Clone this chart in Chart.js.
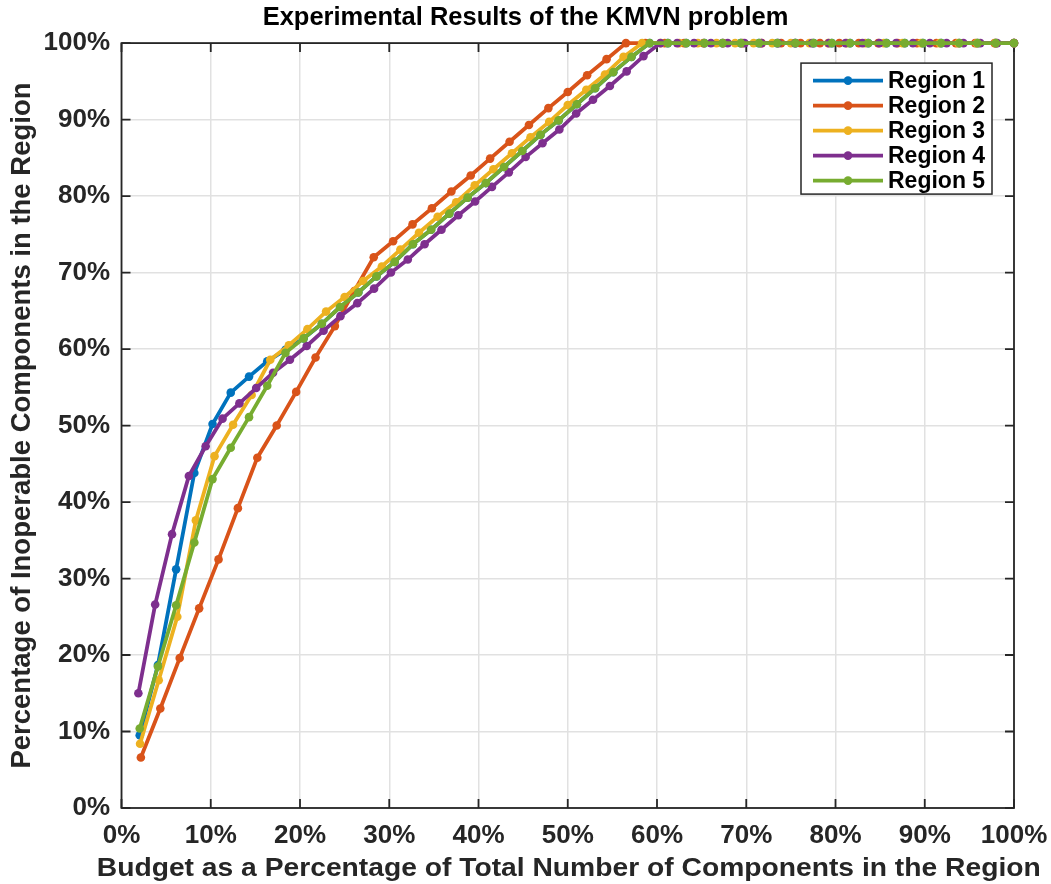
<!DOCTYPE html>
<html>
<head>
<meta charset="utf-8">
<style>
  html, body { margin: 0; padding: 0; background: #ffffff; }
  #wrap { width: 1051px; height: 884px; position: relative; }
</style>
<script src="https://cdn.jsdelivr.net/npm/chart.js@4.4.1/dist/chart.umd.min.js"></script>
</head>
<body>
<div id="wrap"><canvas id="c" width="1051" height="884"></canvas></div>
<script>
// ---------- DATA ----------
const chartTitle = "Experimental Results of the KMVN problem";
const xAxisTitle = "Budget as a Percentage of Total Number of Components in the Region";
const yAxisTitle = "Percentage of Inoperable Components in the Region";
const seriesNames = ["Region 1", "Region 2", "Region 3", "Region 4", "Region 5"];
const tickValues = [0, 10, 20, 30, 40, 50, 60, 70, 80, 90, 100];

// budget (% of components) for each region
const region1Budget = [2.04, 4.08, 6.12, 8.16, 10.20, 12.24, 14.29, 16.33, 18.37, 20.41, 22.45, 24.49, 26.53, 28.57, 30.61, 32.65, 34.69, 36.73, 38.78, 40.82, 42.86, 44.90, 46.94, 48.98, 51.02, 53.06, 55.10, 57.14, 59.18, 61.22, 63.27, 65.31, 67.35, 69.39, 71.43, 73.47, 75.51, 77.55, 79.59, 81.63, 83.67, 85.71, 87.76, 89.80, 91.84, 93.88, 95.92, 97.96, 100];
const region2Budget = [2.17, 4.35, 6.52, 8.70, 10.87, 13.04, 15.22, 17.39, 19.57, 21.74, 23.91, 26.09, 28.26, 30.43, 32.61, 34.78, 36.96, 39.13, 41.30, 43.48, 45.65, 47.83, 50.00, 52.17, 54.35, 56.52, 58.70, 60.87, 63.04, 65.22, 67.39, 69.57, 71.74, 73.91, 76.09, 78.26, 80.43, 82.61, 84.78, 86.96, 89.13, 91.30, 93.48, 95.65, 97.83, 100];
const region3Budget = [2.08, 4.17, 6.25, 8.33, 10.42, 12.50, 14.58, 16.67, 18.75, 20.83, 22.92, 25.00, 27.08, 29.17, 31.25, 33.33, 35.42, 37.50, 39.58, 41.67, 43.75, 45.83, 47.92, 50.00, 52.08, 54.17, 56.25, 58.33, 60.42, 62.50, 64.58, 66.67, 68.75, 70.83, 72.92, 75.00, 77.08, 79.17, 81.25, 83.33, 85.42, 87.50, 89.58, 91.67, 93.75, 95.83, 97.92, 100];
const region4Budget = [1.89, 3.77, 5.66, 7.55, 9.43, 11.32, 13.21, 15.09, 16.98, 18.87, 20.75, 22.64, 24.53, 26.42, 28.30, 30.19, 32.08, 33.96, 35.85, 37.74, 39.62, 41.51, 43.40, 45.28, 47.17, 49.06, 50.94, 52.83, 54.72, 56.60, 58.49, 60.38, 62.26, 64.15, 66.04, 67.92, 69.81, 71.70, 73.58, 75.47, 77.36, 79.25, 81.13, 83.02, 84.91, 86.79, 88.68, 90.57, 92.45, 94.34, 96.23, 98.11, 100];
const region5Budget = [2.04, 4.08, 6.12, 8.16, 10.20, 12.24, 14.29, 16.33, 18.37, 20.41, 22.45, 24.49, 26.53, 28.57, 30.61, 32.65, 34.69, 36.73, 38.78, 40.82, 42.86, 44.90, 46.94, 48.98, 51.02, 53.06, 55.10, 57.14, 59.18, 61.22, 63.27, 65.31, 67.35, 69.39, 71.43, 73.47, 75.51, 77.55, 79.59, 81.63, 83.67, 85.71, 87.76, 89.80, 91.84, 93.88, 95.92, 97.96, 100];

// percentage of inoperable components for each region
const region1Inoperable = [9.5, 18.7, 31.2, 43.8, 50.2, 54.3, 56.4, 58.4, 59.9, 61.4, 63.3, 65.5, 67.4, 69.5, 71.4, 73.7, 75.6, 77.7, 79.8, 81.7, 83.8, 85.9, 88.0, 89.9, 92.0, 94.1, 96.2, 98.2, 100, 100, 100, 100, 100, 100, 100, 100, 100, 100, 100, 100, 100, 100, 100, 100, 100, 100, 100, 100, 100];
const region2Inoperable = [6.6, 13.0, 19.6, 26.1, 32.5, 39.2, 45.8, 50.0, 54.4, 58.9, 63.0, 67.6, 72.0, 74.1, 76.3, 78.4, 80.6, 82.7, 84.9, 87.1, 89.3, 91.5, 93.6, 95.8, 97.9, 100, 100, 100, 100, 100, 100, 100, 100, 100, 100, 100, 100, 100, 100, 100, 100, 100, 100, 100, 100, 100];
const region3Inoperable = [8.4, 16.7, 25.0, 37.6, 46.0, 50.1, 54.0, 58.6, 60.5, 62.6, 64.9, 66.8, 68.9, 70.8, 73.0, 75.2, 77.3, 79.2, 81.4, 83.5, 85.6, 87.7, 89.7, 91.9, 93.9, 95.9, 98.2, 100, 100, 100, 100, 100, 100, 100, 100, 100, 100, 100, 100, 100, 100, 100, 100, 100, 100, 100, 100, 100];
const region4Inoperable = [15.0, 26.6, 35.8, 43.4, 47.3, 50.9, 52.9, 54.9, 56.9, 58.6, 60.4, 62.4, 64.3, 66.0, 67.9, 70.0, 71.7, 73.7, 75.6, 77.5, 79.3, 81.2, 83.1, 85.1, 86.9, 88.7, 90.8, 92.6, 94.4, 96.3, 98.3, 100, 100, 100, 100, 100, 100, 100, 100, 100, 100, 100, 100, 100, 100, 100, 100, 100, 100, 100, 100, 100, 100];
const region5Inoperable = [10.4, 18.5, 26.5, 34.7, 43.0, 47.1, 51.1, 55.2, 59.5, 61.4, 63.3, 65.5, 67.4, 69.5, 71.4, 73.7, 75.6, 77.7, 79.8, 81.7, 83.8, 85.9, 88.0, 89.9, 92.0, 94.1, 96.2, 98.2, 100, 100, 100, 100, 100, 100, 100, 100, 100, 100, 100, 100, 100, 100, 100, 100, 100, 100, 100, 100, 100];

const seriesColors = ["#0072BD", "#D95319", "#EDB120", "#7E2F8E", "#77AC30"];

// ---------- BUILD ----------
const budgets = [region1Budget, region2Budget, region3Budget, region4Budget, region5Budget];
const values = [region1Inoperable, region2Inoperable, region3Inoperable, region4Inoperable, region5Inoperable];
const FONT = "'Liberation Sans', Arial, Helvetica, sans-serif";
const AXIS_COLOR = "#262626";

const datasets = seriesNames.map((name, k) => ({
  label: name,
  data: budgets[k].map((b, i) => ({ x: b, y: values[k][i] })),
  borderColor: seriesColors[k],
  backgroundColor: seriesColors[k],
  pointBackgroundColor: seriesColors[k],
  pointBorderColor: seriesColors[k],
  borderWidth: 3.8,
  pointRadius: 4.3,
  pointBorderWidth: 0,
  pointHoverRadius: 4.3,
  tension: 0,
  clip: false,
  order: seriesNames.length - k
}));

// box, inward ticks (drawn under the data like MATLAB's axes)
const framePlugin = {
  id: 'frame',
  beforeDatasetsDraw(chart) {
    const { ctx, chartArea: a, scales } = chart;
    ctx.save();
    ctx.strokeStyle = AXIS_COLOR;
    ctx.lineWidth = 1.8;
    ctx.strokeRect(a.left, a.top, a.right - a.left, a.bottom - a.top);
    const tl = 9;
    ctx.beginPath();
    tickValues.forEach(v => {
      const px = scales.x.getPixelForValue(v);
      ctx.moveTo(px, a.bottom); ctx.lineTo(px, a.bottom - tl);
      ctx.moveTo(px, a.top); ctx.lineTo(px, a.top + tl);
      const py = scales.y.getPixelForValue(v);
      ctx.moveTo(a.left, py); ctx.lineTo(a.left + tl, py);
      ctx.moveTo(a.right, py); ctx.lineTo(a.right - tl, py);
    });
    ctx.stroke();
    ctx.restore();
  }
};

// x-axis title (wider than the axes, as in the reference)
const xTitlePlugin = {
  id: 'xTitle',
  afterDraw(chart) {
    const { ctx, chartArea: a } = chart;
    ctx.save();
    ctx.font = "bold 26.5px " + FONT;
    ctx.fillStyle = AXIS_COLOR;
    ctx.textAlign = "center";
    ctx.textBaseline = "alphabetic";
    const w = ctx.measureText(xAxisTitle).width;
    const targetW = 944;
    ctx.translate((a.left + a.right) / 2 + 1, 875.5);
    ctx.scale(targetW / w, 1);
    ctx.fillText(xAxisTitle, 0, 0);
    ctx.restore();
  }
};

// legend box drawn inside the axes (north-east)
const insideLegend = {
  id: 'insideLegend',
  afterDraw(chart) {
    const { ctx, chartArea: a } = chart;
    const boxW = 191, boxH = 131;
    const bx = a.right - 22 - boxW, by = a.top + 20;
    ctx.save();
    ctx.fillStyle = "#ffffff";
    ctx.fillRect(bx, by, boxW, boxH);
    ctx.strokeStyle = AXIS_COLOR;
    ctx.lineWidth = 1.5;
    ctx.strokeRect(bx, by, boxW, boxH);
    ctx.font = "bold 23px " + FONT;
    ctx.textBaseline = "middle";
    ctx.textAlign = "left";
    chart.data.datasets.forEach((ds, k) => {
      const y = by + 17.5 + k * 25;
      ctx.strokeStyle = ds.borderColor;
      ctx.lineWidth = 3.8;
      ctx.beginPath();
      ctx.moveTo(bx + 12, y); ctx.lineTo(bx + 82, y);
      ctx.stroke();
      ctx.fillStyle = ds.borderColor;
      ctx.beginPath();
      ctx.arc(bx + 47, y, 4.3, 0, Math.PI * 2);
      ctx.fill();
      ctx.fillStyle = "#000000";
      ctx.fillText(ds.label, bx + 87, y + 1);
    });
    ctx.restore();
  }
};

new Chart(document.getElementById('c'), {
  type: 'line',
  data: { datasets },
  options: {
    responsive: false,
    animation: false,
    devicePixelRatio: 1,
    layout: { padding: { left: 0, right: 0, top: 0, bottom: 0 } },
    plugins: {
      legend: { display: false },
      tooltip: { enabled: false },
      title: {
        display: true,
        text: chartTitle,
        color: "#000000",
        font: { family: FONT, size: 25.5, weight: 'bold', lineHeight: 1.2 },
        padding: { top: 2.5, bottom: 10 }
      }
    },
    scales: {
      x: {
        type: 'linear',
        min: 0, max: 100,
        afterFit(s) { s.height = 76; s.paddingLeft = 0; s.paddingRight = 37; },
        afterBuildTicks(s) { s.ticks = tickValues.map(v => ({ value: v })); },
        ticks: {
          color: AXIS_COLOR,
          font: { family: FONT, size: 26, weight: 'bold' },
          padding: 12,
          maxRotation: 0,
          callback: v => v + '%'
        },
        grid: { color: '#e1e1e1', lineWidth: 1.5, drawTicks: false },
        border: { display: false },
        title: { display: false }
      },
      y: {
        type: 'linear',
        min: 0, max: 100,
        afterFit(s) { s.width = 121.5; s.paddingTop = 0; s.paddingBottom = 0; },
        afterBuildTicks(s) { s.ticks = tickValues.map(v => ({ value: v })); },
        ticks: {
          color: AXIS_COLOR,
          font: { family: FONT, size: 26, weight: 'bold' },
          padding: 11.5,
          callback: v => v + '%'
        },
        grid: { color: '#e1e1e1', lineWidth: 1.5, drawTicks: false },
        border: { display: false },
        title: {
          display: true,
          text: yAxisTitle,
          color: AXIS_COLOR,
          font: { family: FONT, size: 27.5, weight: 'bold', lineHeight: 1.2 },
          padding: { top: 6, bottom: 0 }
        }
      }
    }
  },
  plugins: [framePlugin, insideLegend, xTitlePlugin]
});
</script>
</body>
</html>
